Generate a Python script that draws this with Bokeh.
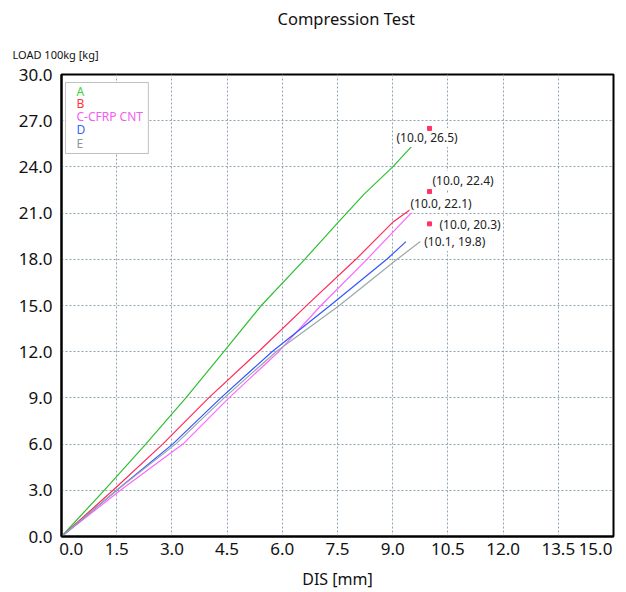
from bokeh.plotting import figure
from bokeh.models import Range1d, FixedTicker, PrintfTickFormatter, Label, BoxAnnotation, Title
from bokeh.embed import file_html
from bokeh.resources import INLINE

# ---- data ----
a_x = [0.0, 1.16, 2.29, 3.38, 4.41, 5.43, 6.61, 7.48, 8.21, 9.0, 9.70]
a_y = [0.0, 3.0, 6.0, 9.0, 12.0, 15.0, 18.0, 20.3, 22.2, 24.0, 25.8]

b_x = [0.0, 1.4, 2.75, 4.0, 5.35, 6.75, 8.0, 9.0, 9.52]
b_y = [0.0, 3.0, 6.0, 9.0, 12.0, 15.2, 18.0, 20.4, 21.3]

c_x = [0.0, 1.6, 3.3, 4.55, 5.9, 7.05, 8.3, 9.5, 9.68]
c_y = [0.0, 3.0, 6.0, 9.0, 12.0, 15.0, 18.0, 21.0, 21.3]

d_x = [0.0, 1.5, 3.02, 4.33, 5.72, 7.3, 8.84, 9.36]
d_y = [0.0, 3.0, 6.0, 9.0, 12.0, 15.0, 18.0, 19.15]

e_x = [0.0, 1.5, 3.1, 4.42, 5.83, 7.55, 9.12, 9.75]
e_y = [0.0, 3.0, 6.0, 9.0, 12.0, 15.0, 18.0, 19.15]

series_names = ["A", "B", "C-CFRP CNT", "D", "E"]
line_colors = ["#2fbf2f", "#ff2a5a", "#ff66ff", "#3355ff", "#99a9a9"]
legend_colors = ["#33d633", "#ff3333", "#f060f0", "#3366ff", "#8898a8"]

mark_x = [10.0, 10.0, 10.0]
mark_y = [26.5, 22.4, 20.3]

note_x = [10.0, 10.0, 10.0, 10.0, 10.1]
note_y = [26.5, 22.4, 22.1, 20.3, 19.8]
note_dx = [-34, 2, -20, 9, -10]
note_dy = [-9, 11, -7, -1, -10]

x_ticks = [0, 1.5, 3, 4.5, 6, 7.5, 9, 10.5, 12, 13.5, 15]
y_ticks = [0, 3, 6, 9, 12, 15, 18, 21, 24, 27, 30]

FONT = "Noto Sans"
FS = "\u2007"  # figure space, used to nudge the end tick labels inward

p = figure(width=626, height=592, output_backend="svg", toolbar_location=None,
           x_range=Range1d(0, 15), y_range=Range1d(0, 30),
           min_border_left=61, min_border_right=13, min_border_top=74, min_border_bottom=56)
p.title = None
p.background_fill_color = "white"
p.border_fill_color = "white"
p.outline_line_color = "black"
p.outline_line_width = 2

for ax in (p.xaxis[0], p.yaxis[0]):
    ax.major_tick_line_color = None
    ax.minor_tick_line_color = None
    ax.major_tick_out = 0
    ax.major_tick_in = 0
    ax.minor_tick_out = 0
    ax.minor_tick_in = 0
    ax.axis_line_color = "black"
    ax.axis_line_width = 2
    ax.major_label_text_font = FONT
    ax.major_label_text_font_size = "17px"
    ax.major_label_text_color = "#111111"

p.xaxis.ticker = FixedTicker(ticks=x_ticks)
p.yaxis.ticker = FixedTicker(ticks=y_ticks)
p.xaxis.formatter = PrintfTickFormatter(format="%.1f")
p.yaxis.formatter = PrintfTickFormatter(format="%.1f")
p.xaxis.major_label_overrides = {0: FS + FS + "0.0", 15: "15.0" + FS + "\u00a0"}
p.xaxis.major_label_standoff = 0
p.yaxis.major_label_standoff = 9
p.xaxis.axis_label = "DIS [mm]"
p.xaxis.axis_label_text_font = FONT
p.xaxis.axis_label_text_font_size = "16px"
p.xaxis.axis_label_text_font_style = "normal"
p.xaxis.axis_label_text_color = "#111111"
p.xaxis.axis_label_standoff = 5

for g in (p.xgrid[0], p.ygrid[0]):
    g.grid_line_color = "#8ea2b2"
    g.grid_line_dash = "2 2"
    g.grid_line_width = 1

# curves
for xs, ys, col in zip([a_x, b_x, c_x, d_x, e_x], [a_y, b_y, c_y, d_y, e_y], line_colors):
    p.line(xs, ys, line_color=col, line_width=1.2)

# point notes (white background, drawn under the markers)
for x, y, dx, dy in zip(note_x, note_y, note_dx, note_dy):
    p.add_layout(Label(x=x, y=y, x_offset=dx, y_offset=dy, text=f"({x:.1f}, {y:.1f})",
                       text_align="left", text_baseline="middle", text_font=FONT,
                       text_font_size="12px", text_color="#222222",
                       background_fill_color="white", padding=1, level="glyph"))

# markers
p.scatter(mark_x, mark_y, marker="square", size=4, fill_color="#ff3366",
          line_color="#ff3366", level="overlay")

# legend box and texts
p.add_layout(BoxAnnotation(left=0.11, right=2.36, top=29.48, bottom=24.87,
                           fill_color="white", fill_alpha=1.0,
                           line_color="#333333", line_width=1))
leg_dy = [-17, -29, -42, -55, -69]
for name, col, dy in zip(series_names, legend_colors, leg_dy):
    p.add_layout(Label(x=0, y=30, x_offset=15, y_offset=dy, text=name, text_align="left",
                       text_baseline="middle", text_font=FONT, text_font_size="12px",
                       text_color=col))

# titles (first added sits closest to the frame)
p.add_layout(Title(text="LOAD 100kg [kg]", align="left", offset=-49, standoff=25,
                   text_font=FONT, text_font_size="11px", text_font_style="normal",
                   text_color="#111111"), "above")
p.add_layout(Title(text="Compression Test", align="left", offset=216, standoff=6,
                   text_font=FONT, text_font_size="16.5px", text_font_style="normal",
                   text_color="#111111"), "above")

open("out.html", "w").write(file_html(p, INLINE))
